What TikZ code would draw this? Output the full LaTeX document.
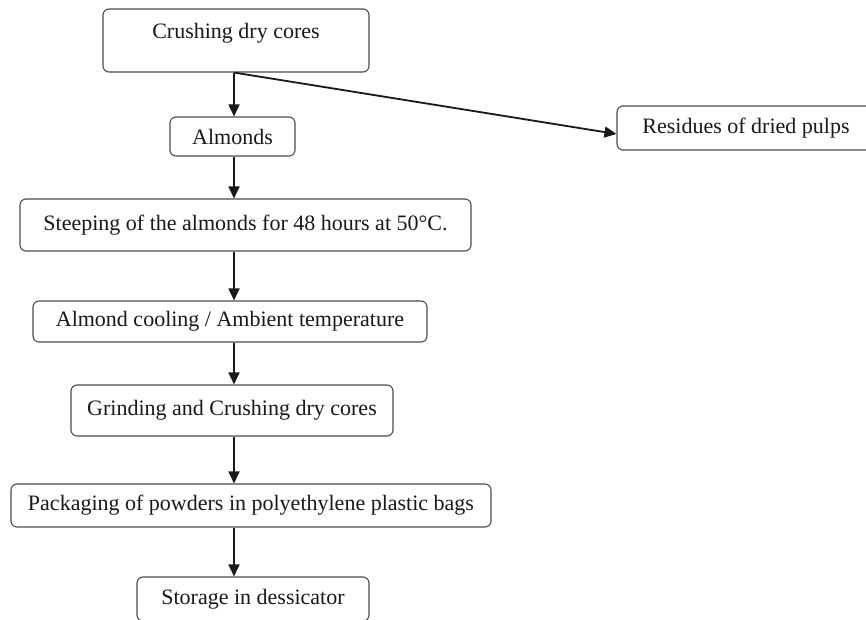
\documentclass[tikz,border=0pt]{standalone}
\usepackage{fontspec}
\setmainfont{Liberation Serif}
\usetikzlibrary{arrows.meta,calc}
\begin{document}
\begin{tikzpicture}[x=1pt,y=-1pt,
  stepbox/.style={draw=black!70, line width=1.1pt, rounded corners=6pt, fill=white, inner sep=0pt},
  lbl/.style={font=\fontsize{22}{26}\selectfont, text=black!90, inner sep=0pt},
  arr/.style={line width=1.8pt, draw=black!90, -{Triangle[length=12pt,width=11pt]}}]
\useasboundingbox (0,0) rectangle (866,620);
\clip (0,0) rectangle (866,620);
\coordinate (ax) at (234,0);
% boxes
\node[stepbox, minimum width=266pt, minimum height=63pt] (n1) at (236,40.5) {};
\node[lbl] (t1) at (236,33) {Crushing dry cores};
\node[stepbox, lbl, minimum width=125pt, minimum height=39pt] (n2) at (232.5,136.5) {Almonds};
\node[stepbox, minimum width=258pt, minimum height=44pt] (res) at (746,128) {};
\node[lbl] (tres) at (746,128) {Residues of dried pulps};
\node[stepbox, lbl, minimum width=451pt, minimum height=52pt] (n3) at (245.5,225) {Steeping of the almonds for 48 hours at 50°C.};
\node[stepbox, lbl, minimum width=394pt, minimum height=41pt] (n4) at (230,321.5) {Almond cooling / Ambient temperature};
\node[stepbox, lbl, minimum width=322pt, minimum height=51pt] (n5) at (232,410.5) {Grinding and Crushing dry cores};
\node[stepbox, lbl, minimum width=480pt, minimum height=43pt] (n6) at (251,505.5) {Packaging of powders in polyethylene plastic bags};
\node[stepbox, minimum width=232pt, minimum height=44pt] (n7) at (253,599) {};
\node[lbl] (t7) at (253,599) {Storage in dessicator};
% connectors
\coordinate (s1) at (n1.south -| ax);
\coordinate (r1) at ($(res.west)+(0,6)$);
\draw[arr] (s1) -- (n2.north -| ax);
\draw[arr] (s1) -- (r1);
\draw[arr] (n2.south -| ax) -- (n3.north -| ax);
\draw[arr] (n3.south -| ax) -- (n4.north -| ax);
\draw[arr] (n4.south -| ax) -- (n5.north -| ax);
\draw[arr] (n5.south -| ax) -- (n6.north -| ax);
\draw[arr] (n6.south -| ax) -- (n7.north -| ax);
\end{tikzpicture}
\end{document}
